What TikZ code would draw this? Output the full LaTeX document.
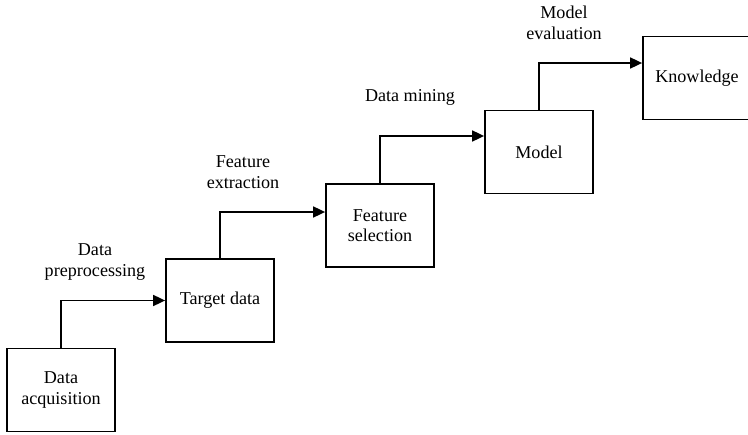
\documentclass[tikz,border=0pt]{standalone}
\usepackage{fontspec}
\setmainfont{Liberation Serif}
\usetikzlibrary{arrows.meta}

\begin{document}
\begin{tikzpicture}[x=0.2mm,y=-0.2mm,>={Triangle[length=2.4mm,width=2.2mm]},line width=1pt,
    font=\fontsize{10.3}{11.6}\selectfont,
    stage/.style={draw,rectangle,minimum width=21.6mm,minimum height=16.6mm,align=center,inner sep=1pt},
    step label/.style={align=center}]
    \useasboundingbox (0,0) rectangle (748,435);

            \node[stage] (acq) at (61,390) {Data\\acquisition};
            \node[stage] (tgt) at (220,300.5) {Target data};
            \node[stage] (sel) at (380,225.5) {Feature\\selection};
            \node[stage] (mod) at (539,152) {Model};
            \node[stage] (know) at (697,78) {Knowledge};

            \node[step label] (l1) at (95,262) {Data\\preprocessing};
            \node[step label] (l2) at (243,172) {Feature\\extraction};
            \node[step label] (l3) at (410,97) {Data mining};
            \node[step label] (l4) at (564,23) {Model\\evaluation};

            \draw[->] (acq.north) |- (tgt.west);
            \draw[->] (tgt.north) |- ([yshift=2.7mm]sel.west);
            \draw[->] (sel.north) |- ([yshift=3.2mm]mod.west);
            \draw[->] (mod.north) |- ([yshift=3mm]know.west);

            ;
        \end{tikzpicture}
\end{document}
